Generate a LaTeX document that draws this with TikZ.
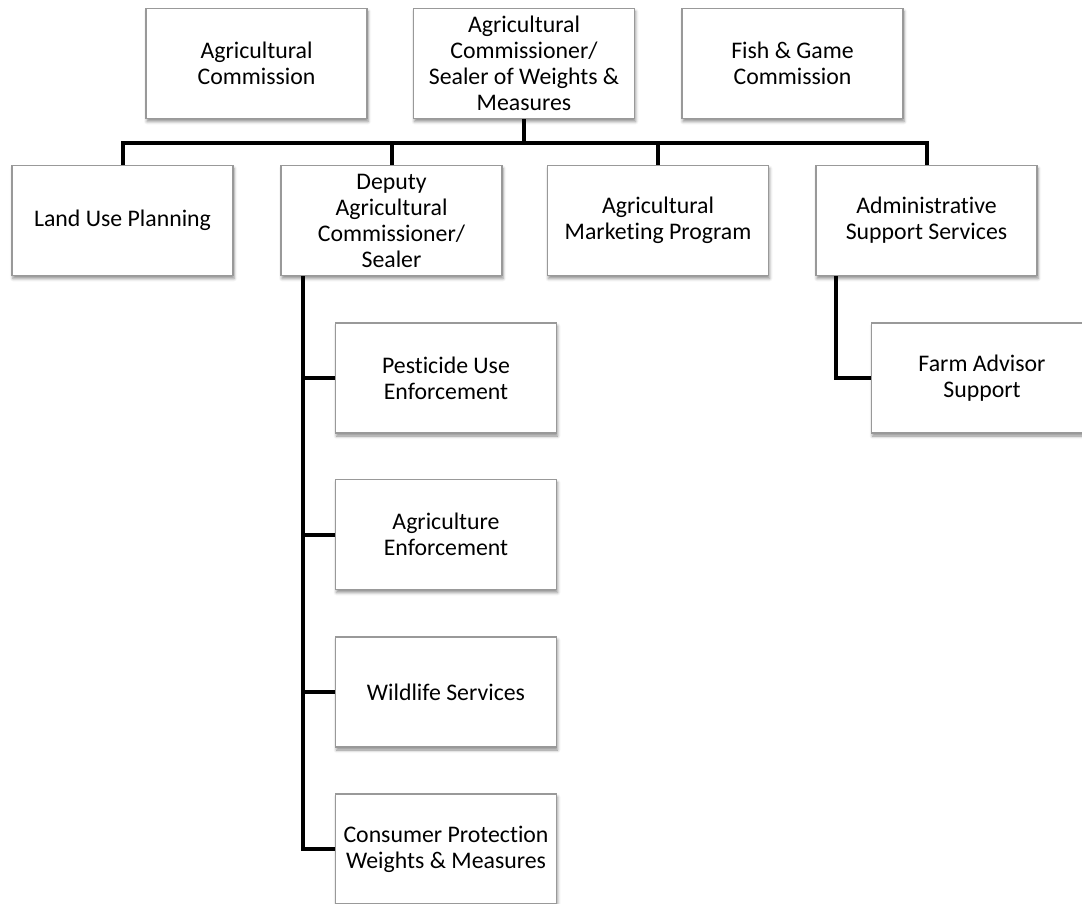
\documentclass[tikz,border=0pt]{standalone}
\usepackage{fontspec}
\setmainfont{Carlito}[Ligatures=NoCommon]
\usetikzlibrary{shadows.blur}
\begin{document}
\begin{tikzpicture}[x=1pt,y=-1pt,
  box/.style={draw=gray!80,line width=1.1pt,fill=white,minimum width=221pt,minimum height=110pt,
    align=center,inner sep=2pt,font=\fontsize{23.8}{26}\selectfont,
    blur shadow={shadow xshift=1pt,shadow yshift=-3pt,shadow blur radius=3pt,shadow opacity=45}},
  conn/.style={line width=4pt,black}]
\useasboundingbox (0,0) rectangle (1082,903);
\clip (0,0) rectangle (1082,903);
\node[box] (agc) at (256.5,63.5) {Agricultural\\Commission};
\node[box] (top) at (524,63.5) {Agricultural\\Commissioner/\\Sealer of Weights \&\\Measures};
\node[box] (fish) at (792.5,63.5) {Fish \& Game\\Commission};
\node[box] (land) at (122.5,220.5) {Land Use Planning};
\node[box] (dep) at (391.5,220.5) {Deputy\\Agricultural\\Commissioner/\\Sealer};
\node[box] (mkt) at (658,220.5) {Agricultural\\Marketing Program};
\node[box] (adm) at (926.5,220.5) {Administrative\\Support Services};
\node[box] (pest) at (446,378) {Pesticide Use\\Enforcement};
\node[box] (agenf) at (446,534.5) {Agriculture\\Enforcement};
\node[box] (wild) at (446,692) {Wildlife Services};
\node[box] (cons) at (446,849) {Consumer Protection\\Weights \& Measures};
\node[box] (farm) at (982,378) {Farm Advisor\\Support};
\coordinate (bus) at (0,143);
\coordinate (sp) at ([xshift=23pt]dep.south west);
\coordinate (sp2) at ([xshift=21pt]adm.south west);
\draw[conn] (top.south) -- (top.south |- bus);
\draw[conn] (land.north) -- (land.north |- bus) -- (adm.north |- bus) -- (adm.north);
\draw[conn] (dep.north) -- (dep.north |- bus);
\draw[conn] (mkt.north) -- (mkt.north |- bus);
\draw[conn] (sp) |- (cons.west);
\draw[conn] (sp |- pest.west) -- (pest.west);
\draw[conn] (sp |- agenf.west) -- (agenf.west);
\draw[conn] (sp |- wild.west) -- (wild.west);
\draw[conn] (sp2) |- (farm.west);
\end{tikzpicture}
\end{document}
